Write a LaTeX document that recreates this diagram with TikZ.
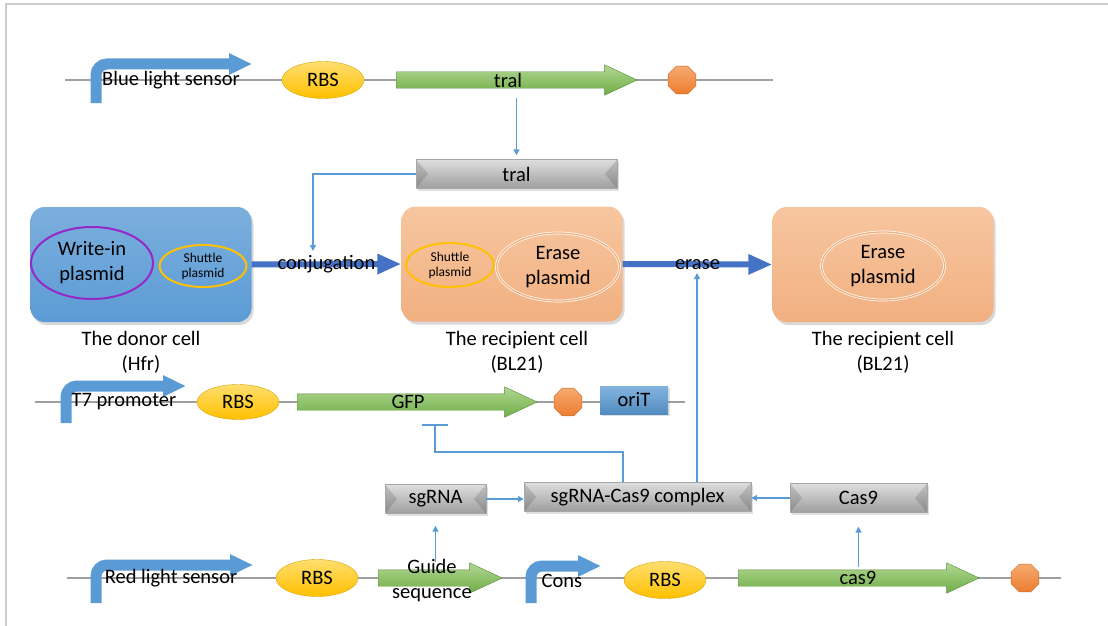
\documentclass[tikz,border=0pt]{standalone}
\usepackage{fontspec}
\setmainfont{Carlito}
\usetikzlibrary{arrows.meta,positioning,shapes.geometric,shapes.arrows,shadows}

\definecolor{my_blue}{RGB}{91,155,213}
\definecolor{my_blue_dark}{RGB}{68,114,196}
\definecolor{my_gold}{RGB}{255,192,0}
\definecolor{my_gold_light}{RGB}{255,222,110}
\definecolor{my_green}{RGB}{112,173,71}
\definecolor{my_green_light}{RGB}{176,215,146}
\definecolor{my_orange}{RGB}{237,125,49}
\definecolor{my_orange_light}{RGB}{246,170,110}
\definecolor{my_peach}{RGB}{241,176,128}
\definecolor{my_peach_light}{RGB}{247,198,160}
\definecolor{my_gray}{RGB}{158,158,158}
\definecolor{my_gray_light}{RGB}{222,222,222}
\definecolor{my_purple}{RGB}{150,40,200}
\definecolor{my_frame}{RGB}{205,205,205}

\tikzset{
  txt/.style = {font=\fontsize{20.5pt}{25pt}\selectfont, align=center, inner sep=0pt},
  small/.style = {font=\fontsize{13.5pt}{15pt}\selectfont, align=center, inner sep=0pt},
  backbone/.style = {draw=gray!75, line width=1.8pt},
  promo/.style = {draw=my_blue, line width=11pt, rounded corners=11pt, -{Triangle[length=23pt,width=20pt]}},
  rbs/.style = {ellipse, txt, minimum width=82pt, minimum height=37pt, top color=my_gold_light,
  bottom color=my_gold, draw=my_gold!85!black, line width=0.4pt},
  cds/.style = {single arrow, anchor=tail, single arrow head extend=7pt, single arrow tip angle=50, inner xsep=0pt,
  inner ysep=8pt, top color=my_green_light, bottom color=my_green, draw=my_green!80!black, line width=0.4pt},
  term/.style = {regular polygon, regular polygon sides=8, minimum size=30pt, inner sep=0pt,
  top color=my_orange_light, bottom color=my_orange, draw=my_orange!85!black, line width=0.4pt},
  bevel/.style = {path picture={
    \fill[black, opacity=0.13] (path picture bounding box.north west) -- ([xshift=12pt]path picture bounding box.west)
      -- (path picture bounding box.south west) -- cycle;
    \fill[black, opacity=0.13] (path picture bounding box.north east) -- ([xshift=-12pt]path picture bounding box.east)
      -- (path picture bounding box.south east) -- cycle;}},
  prot/.style = {rectangle, txt, minimum height=29pt, top color=my_gray_light, bottom color=my_gray, draw=gray!70,
  line width=0.4pt, bevel, drop shadow={opacity=0.25, shadow xshift=1.5pt, shadow yshift=-2pt}},
  cell/.style = {rectangle, rounded corners=14pt, minimum width=221pt, minimum height=115pt,
  drop shadow={opacity=0.3, shadow xshift=2pt, shadow yshift=-3pt}},
  plasmid/.style = {ellipse, txt, line width=2pt},
  erase/.style = {plasmid, draw=white, double=my_peach, double distance=1.3pt, line width=0.7pt,
  minimum width=123pt, minimum height=68pt}
}

\begin{document}
\begin{tikzpicture}[x=1pt, y=-1pt,
        link/.style={draw=my_blue, line width=1.3pt, -{Triangle[length=6pt,width=6pt]}},
        rep/.style={draw=my_blue, line width=1.5pt, -{Bar[width=26pt]}},
        bigarrow/.style={draw=my_blue_dark, line width=6pt, -{Triangle[length=24pt,width=19pt]}}]
    \useasboundingbox (0,0) rectangle (1108,626);
    \draw[my_frame, line width=1.5pt] (6,626) -- (6,4) -- (1108,4);

    % blue light row
    \coordinate (b1s) at (65,80);
    \coordinate (b1e) at (773,80);
    \draw[backbone] (b1s) -- (b1e);
    \draw[promo] (96,103) |- (252,64);
    \node[txt] (blue) at (171,80) {Blue light sensor};
    \node[rbs] (rbs1) at (323,80) {RBS};
    \node[cds, minimum height=241pt] (tral) at (396,80) {};
    \node[txt] (tral_t) at (508,80) {tral};
    \node[term] (ter1) at (682,80) {};
    \node[prot, minimum width=201pt] (tral_p) at (516.5,174) {tral};

    % cells
    \node[cell, top color=my_blue!80!white, bottom color=my_blue] (donor) at (141,264.5) {};
    \node[plasmid, draw=my_purple, minimum width=122pt, minimum height=72pt] (writein) at (92,263) {Write-in\\plasmid};
    \node[plasmid, small, draw=my_gold, minimum width=87pt, minimum height=42pt] (shuttle1) at (203,266) {Shuttle\\plasmid};
    \node[txt, below=9pt of donor] (donor_c) {The donor cell\\(Hfr)};

    \node[cell, top color=my_peach_light, bottom color=my_peach] (recip1) at (512,264) {};
    \node[plasmid, small, draw=my_gold, minimum width=88pt, minimum height=44pt] (shuttle2) at (450,265) {Shuttle\\plasmid};
    \node[erase] (erase1) at (558,267) {Erase\\plasmid};
    \node[txt, below=9pt of recip1, xshift=5pt] (recip1_c) {The recipient cell\\(BL21)};

    \node[cell, top color=my_peach_light, bottom color=my_peach] (recip2) at (883,264.5) {};
    \node[erase] (erase2) at (883,266) {Erase\\plasmid};
    \node[txt, below=9pt of recip2] (recip2_c) {The recipient cell\\(BL21)};

    \draw[bigarrow] (donor.east) -- node[txt] (conj) {conjugation} (recip1.west);
    \draw[bigarrow] (recip1.east) -- node[txt] (erase_t) {erase} (recip2.west);

    % GFP row
    \coordinate (b2s) at (35,402);
    \coordinate (b2e) at (685,402);
    \draw[backbone] (b2s) -- (b2e);
    \draw[promo] (66,423) |- (186,386);
    \node[txt] (t7) at (124,402) {T7 promoter};
    \node[rbs, minimum height=35pt] (rbs2) at (238,402) {RBS};
    \node[cds, minimum height=240pt] (gfp) at (297,402) {};
    \node[txt] (gfp_t) at (408,402) {GFP};
    \node[term] (ter2) at (568,402) {};
    \node[txt, minimum width=68pt, minimum height=28pt, top color=my_blue!75!white, bottom color=my_blue!90!black,
      drop shadow={opacity=0.25, shadow xshift=1.5pt, shadow yshift=-2pt}] (orit) at (634,400) {oriT};

    % red light row
    \coordinate (b3s) at (67,578);
    \coordinate (b3e) at (1061,578);
    \draw[backbone] (b3s) -- (b3e);
    \draw[promo] (96,603) |- (253,565);
    \node[txt] (red) at (171,578) {Red light sensor};
    \node[rbs] (rbs3) at (317,578) {RBS};
    \node[cds, minimum height=124pt] (guide) at (378,578) {};
    \node[txt] (guide_t) at (432,581) {Guide\\sequence};
    \draw[promo] (531,603) |- (601,566);
    \node[txt] (cons) at (562,581) {Cons};
    \node[rbs] (rbs4) at (665,580) {RBS};
    \node[cds, minimum height=241pt] (cas9) at (738,578) {};
    \node[txt] (cas9_t) at (858,578) {cas9};
    \node[term] (ter3) at (1025,578) {};

    % proteins
    \node[prot, minimum width=101pt] (sgrna) at (435.5,499) {sgRNA};
    \node[prot, minimum width=227pt] (cplx) at (637.5,497) {sgRNA-Cas9 complex};
    \node[prot, minimum width=137pt] (cas9_p) at (858.5,498) {Cas9};

    % links
    \coordinate (tral_out) at (516.5,98);
    \coordinate (cas9_out) at (858.5,567);
    \coordinate (conj_in) at (313,251);
    \coordinate (erase_in) at (697,273);
    \coordinate (rep_turn) at (623,452);
    \coordinate (gfp_bar) at (435,424);
    \coordinate (guide_top) at (435.5,562);
    \draw[link, shorten >=4pt] (tral_out) -- (tral_p.north);
    \draw[link] (tral_p.west) -| (conj_in);
    \draw[link] (cplx.north -| erase_in) -- (erase_in);
    \draw[rep] (cplx.north -| rep_turn) -- (rep_turn) -| (gfp_bar);
    \draw[link] (sgrna.east) -- (sgrna.east -| cplx.west);
    \draw[link] (cas9_p.west) -- (cas9_p.west -| cplx.east);
    \draw[link, shorten >=12pt] (guide_top) -- (sgrna.south);
    \draw[link, shorten >=14pt] (cas9_out) -- (cas9_p.south);
\end{tikzpicture}
\end{document}
